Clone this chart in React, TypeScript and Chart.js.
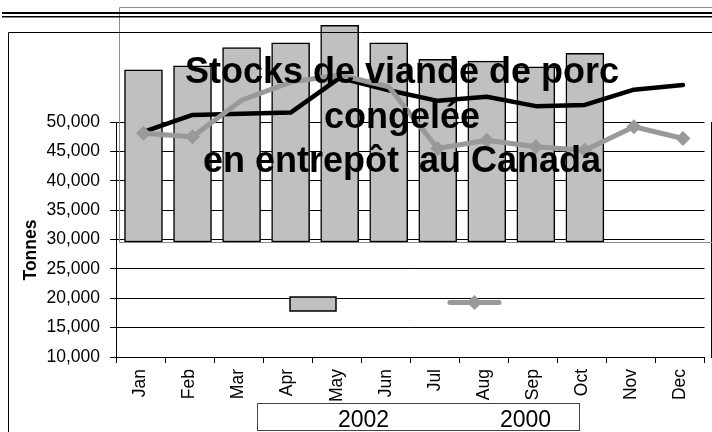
import React, { useEffect, useRef } from "react";
import { Chart, registerables } from "chart.js";

Chart.register(...registerables);

// ---- data ----
const MONTHS = ["Jan", "Feb", "Mar", "Apr", "May", "Jun", "Jul", "Aug", "Sep", "Oct", "Nov", "Dec"];
const STOCKS_2002 = [39300, 40000, 43100, 43900, 46900, 43900, 41100, 40800, 39800, 42100, null, null];
const STOCKS_2001 = [48300, 51200, 51400, 51600, 57500, 55400, 53600, 54300, 52700, 52900, 55500, 56300];
const STOCKS_2000 = [48100, 47500, 53700, 56800, 58000, 56000, 45500, 46900, 45800, 45200, 49200, 47200];
const Y_MIN = 10000;
const Y_MAX = 50000;
const Y_STEP = 5000;
const TITLE_LINES = ["Stocks de viande de porc", "congelée", "en entrepôt  au Canada"];
const Y_TITLE = "Tonnes";
const LEGEND_LABELS = ["2002", "2000"];

// ---- layout / style ----
const W = 712;
const H = 432;
const FONT = "'Liberation Sans', Arial, sans-serif";
const PLOT = { left: 116, right: 711, top: 122, bottom: 357 };
const LAYER_SHIFT_X = 3; // px, the data layer is offset from the axis frame
const LAYER_SHIFT_Y = 115; // px, bars drawn in a frame raised by this amount
const BAR_FILL = "#c0c0c0";
const GRAY = "#999999";

const plotW = PLOT.right - PLOT.left;
const plotH = PLOT.bottom - PLOT.top;
const catW = plotW / MONTHS.length;
const xShift = LAYER_SHIFT_X / catW;
const yShift = (LAYER_SHIFT_Y / plotH) * (Y_MAX - Y_MIN);

const toPoints = (arr: (number | null)[]) => arr.map((v, i) => ({ x: i, y: v }));

const decor = {
  id: "decor",
  beforeDatasetsDraw(chart: any) {
    const { ctx } = chart;
    ctx.save();
    // right border of plot area
    ctx.strokeStyle = "#000";
    ctx.lineWidth = 1;
    ctx.beginPath();
    ctx.moveTo(PLOT.right + 0.5, PLOT.top);
    ctx.lineTo(PLOT.right + 0.5, PLOT.bottom + 1);
    ctx.stroke();
    // gray frame of the raised layer
    ctx.strokeStyle = "#8c8c8c";
    ctx.beginPath();
    const gl = PLOT.left + LAYER_SHIFT_X + 0.5;
    const gt = PLOT.top - LAYER_SHIFT_Y + 0.5;
    const gb = PLOT.bottom - LAYER_SHIFT_Y + 0.5;
    ctx.moveTo(W + 5, gt);
    ctx.lineTo(gl, gt);
    ctx.lineTo(gl, gb);
    ctx.lineTo(W + 5, gb);
    ctx.stroke();
    ctx.restore();
  },
  afterDraw(chart: any) {
    const { ctx } = chart;
    ctx.save();
    // top double rule
    ctx.fillStyle = "#000";
    ctx.fillRect(2, 12, W - 2, 2);
    ctx.fillRect(2, 16, W - 2, 1.5);
    // outer frame
    ctx.strokeStyle = "#000";
    ctx.lineWidth = 1;
    ctx.beginPath();
    ctx.moveTo(W, 32.5);
    ctx.lineTo(8.5, 32.5);
    ctx.lineTo(8.5, H);
    ctx.stroke();

    // title
    ctx.fillStyle = "#000";
    ctx.font = `bold 36px ${FONT}`;
    ctx.textAlign = "center";
    ctx.textBaseline = "alphabetic";
    const baselines = [83, 128, 172];
    TITLE_LINES.forEach((t, i) => ctx.fillText(t, 402, baselines[i]));

    // y axis title
    ctx.save();
    ctx.translate(31.5, 250);
    ctx.rotate(-Math.PI / 2);
    ctx.font = `bold 17.5px ${FONT}`;
    ctx.textBaseline = "middle";
    ctx.fillText(Y_TITLE, 0, 0);
    ctx.restore();

    // legend box
    ctx.fillStyle = "#fff";
    ctx.fillRect(257.5, 403.5, 322, 27);
    ctx.strokeStyle = "#444";
    ctx.strokeRect(257.5, 403.5, 322, 27);
    ctx.fillStyle = "#000";
    ctx.font = `23px ${FONT}`;
    ctx.textAlign = "left";
    ctx.textBaseline = "alphabetic";
    ctx.fillText(LEGEND_LABELS[0], 338, 427);
    ctx.fillText(LEGEND_LABELS[1], 500, 427);

    // displaced legend keys
    ctx.fillStyle = BAR_FILL;
    ctx.fillRect(290, 297, 46, 14);
    ctx.strokeStyle = "#000";
    ctx.lineWidth = 1.5;
    ctx.strokeRect(290, 297, 46, 14);
    ctx.strokeStyle = GRAY;
    ctx.lineWidth = 5;
    ctx.lineCap = "round";
    ctx.beginPath();
    ctx.moveTo(450, 302.5);
    ctx.lineTo(499, 302.5);
    ctx.stroke();
    ctx.fillStyle = GRAY;
    ctx.beginPath();
    ctx.moveTo(474.5, 295);
    ctx.lineTo(482, 302.5);
    ctx.lineTo(474.5, 310);
    ctx.lineTo(467, 302.5);
    ctx.closePath();
    ctx.fill();
    ctx.restore();
  },
};

export default function App() {
  const ref = useRef<HTMLCanvasElement>(null);
  useEffect(() => {
    const chart = new Chart(ref.current as HTMLCanvasElement, {
      type: "bar",
      data: {
        labels: MONTHS,
        datasets: [
          {
            type: "bar",
            label: LEGEND_LABELS[0],
            data: toPoints(STOCKS_2002) as any,
            xAxisID: "xd",
            yAxisID: "yb",
            base: Y_MIN,
            backgroundColor: BAR_FILL,
            borderColor: "#000",
            borderWidth: 1.5,
            borderSkipped: false,
            barThickness: 38,
            clip: false as any,
            order: 3,
          } as any,
          {
            type: "line",
            label: "2001",
            data: toPoints(STOCKS_2001) as any,
            xAxisID: "xd",
            yAxisID: "y",
            borderColor: "#000",
            borderWidth: 4.5,
            borderCapStyle: "round",
            borderJoinStyle: "round",
            pointRadius: 0,
            tension: 0,
            clip: false as any,
            order: 2,
          } as any,
          {
            type: "line",
            label: LEGEND_LABELS[1],
            data: toPoints(STOCKS_2000) as any,
            xAxisID: "xd",
            yAxisID: "y",
            borderColor: GRAY,
            borderWidth: 5,
            borderCapStyle: "round",
            borderJoinStyle: "round",
            pointStyle: "rectRot",
            pointRadius: 7.5,
            pointBorderWidth: 0,
            pointBackgroundColor: GRAY,
            pointBorderColor: GRAY,
            tension: 0,
            clip: false as any,
            order: 1,
          } as any,
        ],
      },
      options: {
        responsive: false,
        animation: false,
        devicePixelRatio: 1,
        events: [],
        layout: { padding: { left: 0, top: PLOT.top, right: W - PLOT.right, bottom: 0 } },
        plugins: {
          legend: { display: false },
          title: { display: false },
          tooltip: { enabled: false },
        },
        scales: {
          x: {
            type: "category",
            position: "bottom",
            offset: true,
            grid: {
              display: true,
              drawOnChartArea: false,
              drawTicks: true,
              tickLength: 6,
              color: "#000",
              offset: true,
            },
            border: { display: true, color: "#000", width: 1 },
            ticks: {
              autoSkip: false,
              minRotation: 90,
              maxRotation: 90,
              padding: 6,
              color: "#000",
              font: { family: FONT, size: 17.5 },
            },
            afterFit: (s: any) => {
              s.height = H - PLOT.bottom;
            },
          } as any,
          xd: {
            type: "linear",
            display: false,
            offset: false,
            min: -0.5 - xShift,
            max: MONTHS.length - 0.5 - xShift,
          },
          y: {
            type: "linear",
            position: "left",
            min: Y_MIN,
            max: Y_MAX,
            grid: { color: "#000", lineWidth: 1, drawTicks: true, tickLength: 6 },
            border: { display: true, color: "#000", width: 1 },
            ticks: {
              stepSize: Y_STEP,
              padding: 10,
              color: "#000",
              font: { family: FONT, size: 17.5 },
              callback: (v: any) => Number(v).toLocaleString("en-US"),
            },
            afterFit: (s: any) => {
              s.width = PLOT.left;
            },
          } as any,
          yb: {
            type: "linear",
            display: false,
            min: Y_MIN - yShift,
            max: Y_MAX - yShift,
          },
        },
      },
      plugins: [decor],
    });
    return () => chart.destroy();
  }, []);

  return (
    <div style={{ position: "fixed", left: 0, top: 0, width: W, height: H, background: "#fff" }}>
      <canvas ref={ref} width={W} height={H} style={{ display: "block", width: W, height: H }} />
    </div>
  );
}
